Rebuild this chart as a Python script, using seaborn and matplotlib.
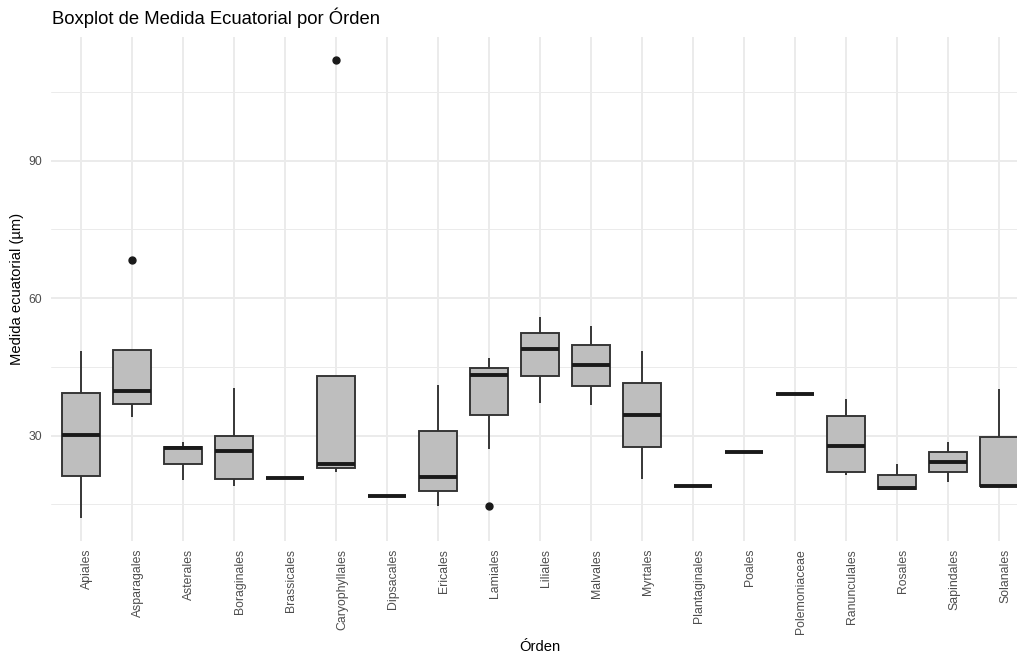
import numpy as np
import pandas as pd
import matplotlib
matplotlib.use("Agg")
import matplotlib.pyplot as plt
from matplotlib.ticker import FixedLocator
import seaborn as sns

ordenes = ["Apiales", "Asparagales", "Asterales", "Boraginales", "Brassicales",
           "Caryophyllales", "Dipsacales", "Ericales", "Lamiales", "Liliales",
           "Malvales", "Myrtales", "Plantaginales", "Poales", "Polemoniaceae",
           "Ranunculales", "Rosales", "Sapindales", "Solanales"]
bigote_inf = [12.1, 34.1, 20.4, 19.1, 20.75, 22.1, 16.9, 14.6, 27.0, 37.1,
              36.6, 20.5, 18.9, 26.4, 39.1, 21.4, 18.2, 19.9, 19.0]
q1 = [21.1, 36.8, 23.8, 20.5, 20.75, 22.9, 16.9, 17.8, 34.5, 42.9,
      40.9, 27.5, 18.9, 26.4, 39.1, 22.1, 18.4, 22.0, 19.0]
mediana = [30.2, 39.8, 27.2, 26.7, 20.75, 23.8, 16.9, 21.0, 43.3, 48.8,
           45.4, 34.5, 18.9, 26.4, 39.1, 27.7, 18.6, 24.2, 19.0]
q3 = [39.4, 48.6, 27.6, 29.9, 20.75, 43.1, 16.9, 31.1, 44.7, 52.4,
      49.7, 41.4, 18.9, 26.4, 39.1, 34.2, 21.3, 26.4, 29.6]
bigote_sup = [48.4, 48.6, 28.6, 40.4, 20.75, 43.1, 16.9, 41.1, 46.9, 55.8,
              54.0, 48.4, 18.9, 26.4, 39.1, 37.9, 23.9, 28.5, 40.1]
atipicos = [[], [68.3], [], [], [], [112.0], [], [], [14.6], [],
            [], [], [], [], [], [], [], [], []]

# observation table reproducing the read box statistics
filas = []
for i, nombre in enumerate(ordenes):
    vals = ([bigote_inf[i]] + [q1[i]] * 20 + [mediana[i]] * 20 + [q3[i]] * 20
            + [bigote_sup[i]] + atipicos[i])
    filas += [(nombre, v) for v in vals]
df = pd.DataFrame(filas, columns=["Orden", "Medida"])

sns.set_theme(style="white")
plt.rcParams["font.family"] = ["Liberation Sans", "DejaVu Sans"]

W, H = 1017, 658
fig = plt.figure(figsize=(W / 100, H / 100), dpi=100)
left, right, top, bottom = 50.7, 1029.6, 37.0, 540.5
ax = fig.add_axes([left / W, 1 - bottom / H, (right - left) / W, (bottom - top) / H])

sns.boxplot(data=df, x="Orden", y="Medida", order=ordenes, ax=ax,
            color="#BEBEBE", saturation=1, width=0.75, linecolor="#333333",
            linewidth=1.37, showcaps=False, whis=1.5, fliersize=5,
            flierprops=dict(marker="o", markerfacecolor="#1a1a1a",
                            markeredgecolor="#1a1a1a"),
            medianprops=dict(color="#1a1a1a", linewidth=2.8))

ax.set_xlim(-0.6, len(ordenes) - 0.4)
ax.set_ylim(7.1, 117.0)
ax.yaxis.set_major_locator(FixedLocator([30, 60, 90]))
ax.yaxis.set_minor_locator(FixedLocator([15, 45, 75, 105]))
ax.grid(True, which="major", color="#EBEBEB", linewidth=1.37)
ax.grid(True, which="minor", axis="y", color="#EBEBEB", linewidth=0.7)
ax.set_axisbelow(True)
for s in ax.spines.values():
    s.set_visible(False)

ax.tick_params(axis="both", which="both", length=0, labelsize=8.8,
               labelcolor="#4D4D4D")
ax.tick_params(axis="y", pad=6)
ax.tick_params(axis="x", pad=6)
plt.setp(ax.get_xticklabels(), rotation=90, va="top", ha="left")

ax.set_xlabel("")
ax.set_ylabel("")
fig.text((left + right) / 2 / W, 1 - 647 / H, "Órden", ha="center", va="center",
         fontsize=10.6, color="black")
fig.text(17.5 / W, 1 - 289 / H, "Medida ecuatorial (µm)", ha="center", va="center",
         rotation=90, fontsize=10.6, color="black")
fig.text(52 / W, 1 - 18 / H, "Boxplot de Medida Ecuatorial por Órden",
         ha="left", va="center", fontsize=13.3, color="black")

fig.savefig("out.png", dpi=100, facecolor="white")
